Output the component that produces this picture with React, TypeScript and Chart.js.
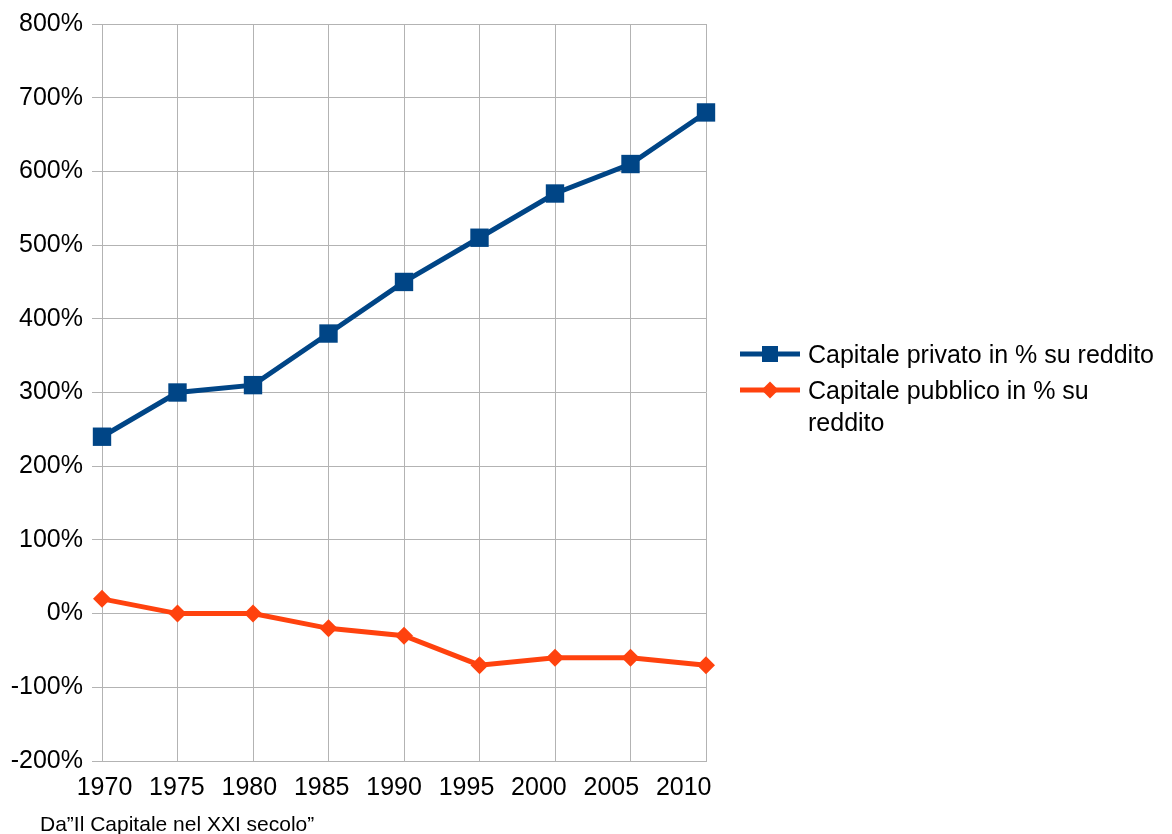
import React, { useEffect, useRef } from "react";
import { Chart, registerables } from "chart.js";

Chart.register(...registerables);

const years = ["1970", "1975", "1980", "1985", "1990", "1995", "2000", "2005", "2010"];
const privateCapital = [240, 300, 310, 380, 450, 510, 570, 610, 680];
const publicCapital = [20, 0, 0, -20, -30, -70, -60, -60, -70];
const yMin = -200;
const yMax = 800;
const yStep = 100;
const seriesLabels = ["Capitale privato in % su reddito", "Capitale pubblico in % su reddito"];
const sourceNote = "Da\u201dIl Capitale nel XXI secolo\u201d";

const BLUE = "#004586";
const ORANGE = "#ff420e";
const GRID = "#b3b3b3";
const FONT = "'Liberation Sans', Arial, sans-serif";

export default function App() {
  const ref = useRef<HTMLCanvasElement | null>(null);

  useEffect(() => {
    if (!ref.current) return;
    const chart = new Chart(ref.current, {
      type: "line",
      data: {
        labels: years,
        datasets: [
          {
            label: seriesLabels[0],
            data: privateCapital,
            xAxisID: "x",
            borderColor: BLUE,
            backgroundColor: BLUE,
            borderWidth: 5,
            pointStyle: "rect",
            pointRadius: 13,
            pointBorderWidth: 0,
            tension: 0,
          },
          {
            label: seriesLabels[1],
            data: publicCapital,
            xAxisID: "x",
            borderColor: ORANGE,
            backgroundColor: ORANGE,
            borderWidth: 5,
            pointStyle: "rectRot",
            pointRadius: 9,
            pointBorderWidth: 0,
            tension: 0,
          },
        ],
      },
      options: {
        responsive: false,
        animation: false,
        layout: { padding: { top: 24, right: 466, left: 0, bottom: 0 } },
        plugins: { legend: { display: false }, tooltip: { enabled: false } },
        scales: {
          x: {
            type: "category",
            position: "bottom",
            offset: false,
            grid: { color: GRID, lineWidth: 1, drawTicks: false, offset: false },
            border: { color: GRID },
            ticks: { display: false },
            afterFit: (s: any) => {
              s.height = 0;
            },
          },
          xLabels: {
            type: "linear",
            position: "bottom",
            min: -0.0345,
            max: 8.308,
            grid: { display: false, drawTicks: false },
            border: { display: false },
            afterBuildTicks: (s: any) => {
              s.ticks = years.map((_, i) => ({ value: i }));
            },
            ticks: {
              color: "#000",
              font: { family: FONT, size: 25 },
              padding: 12,
              maxRotation: 0,
              autoSkip: false,
              callback: (v: any) => years[Math.round(Number(v))] ?? "",
            },
            afterFit: (s: any) => {
              s.height = 73;
            },
          },
          y: {
            min: yMin,
            max: yMax,
            grid: { color: GRID, lineWidth: 1, tickLength: 10 },
            border: { color: GRID },
            ticks: {
              stepSize: yStep,
              color: "#000",
              font: { family: FONT, size: 25 },
              padding: 9,
              callback: (v: any) => `${v}%`,
            },
            afterFit: (s: any) => {
              s.width = 102;
            },
          },
        },
      },
    });
    return () => chart.destroy();
  }, []);

  const markerSvg = (color: string, style: string) => (
    <svg width={60} height={32} style={{ display: "block", flex: "0 0 60px" }}>
      <line x1={0} y1={16} x2={60} y2={16} stroke={color} strokeWidth={5} />
      {style === "rect" ? (
        <rect x={22} y={8} width={16} height={16} fill={color} />
      ) : (
        <polygon points="30,7.5 38.5,16 30,24.5 21.5,16" fill={color} />
      )}
    </svg>
  );

  return (
    <div style={{ position: "absolute", left: 0, top: 0, width: 1172, height: 834, background: "#fff", fontFamily: FONT }}>
      <canvas ref={ref} width={1172} height={834} style={{ display: "block", width: 1172, height: 834 }} />
      <div style={{ position: "absolute", left: 740, top: 338, color: "#000", fontSize: 25, lineHeight: "32px" }}>
        {seriesLabels.map((lab, i) => (
          <div key={i} style={{ display: "flex", alignItems: "flex-start", marginBottom: 4 }}>
            {markerSvg(i === 0 ? BLUE : ORANGE, i === 0 ? "rect" : "rectRot")}
            <div style={{ marginLeft: 8, width: 362 }}>{lab}</div>
          </div>
        ))}
      </div>
      <div style={{ position: "absolute", left: 40, top: 812, fontSize: 21, lineHeight: "24px", color: "#000" }}>
        {sourceNote}
      </div>
    </div>
  );
}
